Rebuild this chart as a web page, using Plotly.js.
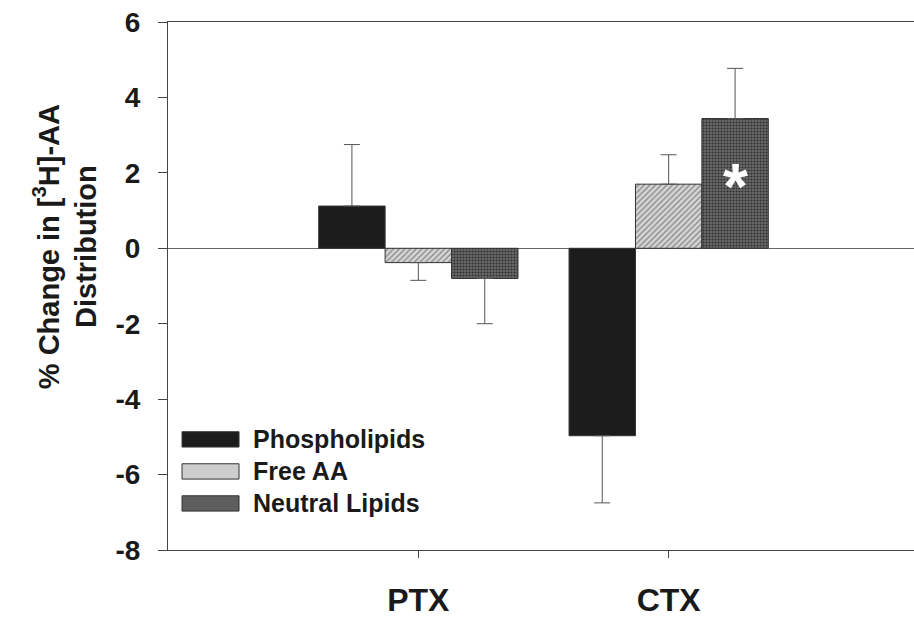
<!DOCTYPE html>
<html>
<head>
<meta charset="utf-8">
<script src="https://cdn.plot.ly/plotly-3.0.1.min.js"></script>
<style>
html,body{margin:0;padding:0;background:#fff;overflow:hidden;}
#chart{width:914px;height:619px;}
</style>
</head>
<body>
<div id="chart"></div>
<script>
// ---- data ----
const groups = ["PTX", "CTX"];
const seriesNames = ["Phospholipids", "Free AA", "Neutral Lipids"];
const phospholipids = [1.12, -4.97];
const freeAA = [-0.38, 1.70];
const neutralLipids = [-0.80, 3.44];
const phospholipidsErr = [1.63, 1.78];
const freeAAErr = [0.47, 0.78];
const neutralLipidsErr = [1.20, 1.33];
const yTicks = [-8, -6, -4, -2, 0, 2, 4, 6];
const yTitle = "% Change in [<sup>3</sup>H]-AA<br>Distribution";

const FONT = "Liberation Sans, Arial, Helvetica, sans-serif";
const INK = "#1a1a1a";

function errFor(vals, errs) {
  return {
    type: "data", symmetric: false,
    array: vals.map((v, i) => v >= 0 ? errs[i] : 0),
    arrayminus: vals.map((v, i) => v < 0 ? errs[i] : 0),
    color: "#555", thickness: 1, width: 8
  };
}

const styles = [
  {color: "#1c1c1c", pattern: null},
  {color: "#cfcfcf", pattern: {shape: "/", bgcolor: "#d6d6d6", fgcolor: "#8a8a8a", size: 4, solidity: 0.35}},
  {color: "#5e5e5e", pattern: {shape: ".", bgcolor: "#6a6a6a", fgcolor: "#2e2e2e", size: 3, solidity: 0.4}}
];
const allVals = [phospholipids, freeAA, neutralLipids];
const allErrs = [phospholipidsErr, freeAAErr, neutralLipidsErr];

const traces = seriesNames.map((name, k) => ({
  type: "bar",
  name: name,
  x: groups,
  y: allVals[k],
  error_y: errFor(allVals[k], allErrs[k]),
  marker: Object.assign({
    color: styles[k].color,
    line: {color: "#333", width: 1}
  }, styles[k].pattern ? {pattern: styles[k].pattern} : {}),
  showlegend: false,
  hoverinfo: "x+y+name"
}));

// custom legend (wide swatches like the original)
const legShapes = [];
const legAnn = [];
const swFill = ["#1c1c1c", "#cdcdcd", "#5e5e5e"];
const rowY = [0.2095, 0.1488, 0.0882]; // paper coords of rows
seriesNames.forEach((name, k) => {
  legShapes.push({
    type: "rect", xref: "paper", yref: "paper",
    x0: 0.0188, x1: 0.0952, y0: rowY[k] - 0.0145, y1: rowY[k] + 0.0145,
    fillcolor: swFill[k], line: {color: "#333", width: 1}
  });
  legAnn.push({
    xref: "paper", yref: "paper", x: 0.1113, y: rowY[k],
    xanchor: "left", yanchor: "middle", showarrow: false,
    text: name, font: {family: FONT, size: 25, color: INK, weight: "bold"}
  });
});

// significance marker
legAnn.push({
  xref: "x", yref: "y", x: 1.265, y: 1.62,
  text: "*", showarrow: false, xanchor: "center", yanchor: "middle",
  font: {family: FONT, size: 64, color: "#ffffff", weight: "bold"}
});

// y-axis title (placed as in the original, slightly above the axis centre)
legAnn.push({
  xref: "paper", yref: "paper", x: -0.137, y: 0.575,
  xanchor: "center", yanchor: "middle", showarrow: false, textangle: -90,
  text: yTitle, font: {family: FONT, size: 29, color: INK, weight: "bold"}
});

const layout = {
  width: 914, height: 619,
  margin: {l: 168, r: 0, t: 22, b: 69},
  paper_bgcolor: "#fff", plot_bgcolor: "#fff",
  barmode: "group", bargap: 0.204, bargroupgap: 0,
  font: {family: FONT, color: INK},
  xaxis: {
    type: "category", range: [-1, 1.98],
    showline: true, linecolor: "#444", linewidth: 1.2, mirror: true,
    ticks: "outside", ticklen: 7, tickcolor: "#444",
    tickfont: {family: FONT, size: 32, color: INK, weight: "bold"},
    ticklabelstandoff: 14,
    showgrid: false, zeroline: false, fixedrange: true
  },
  yaxis: {
    range: [-8, 6], tickvals: yTicks, ticktext: yTicks.map(String),
    showline: true, linecolor: "#444", linewidth: 1.2,
    ticks: "outside", ticklen: 9, tickcolor: "#444",
    tickfont: {family: FONT, size: 28, color: INK, weight: "bold"},
    ticklabelstandoff: 12,
    showgrid: false, zeroline: true, zerolinecolor: "#666", zerolinewidth: 1,
    fixedrange: true
  },
  shapes: legShapes,
  annotations: legAnn
};

Plotly.newPlot("chart", traces, layout, {displayModeBar: false});
</script>
</body>
</html>
